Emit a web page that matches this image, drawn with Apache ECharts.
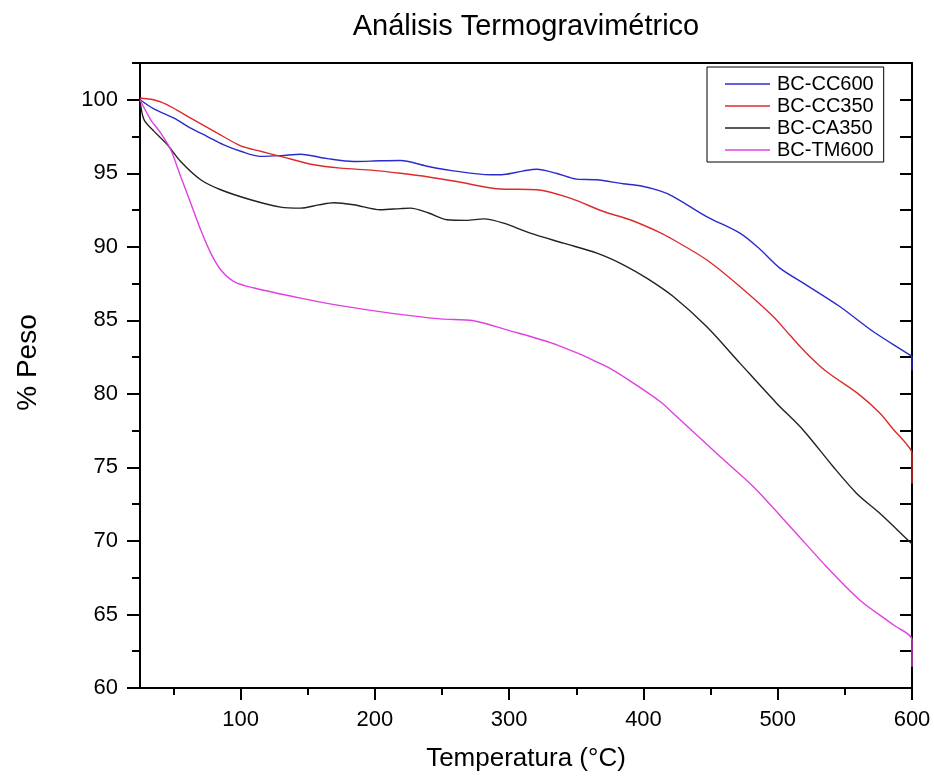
<!DOCTYPE html>
<html>
<head>
<meta charset="utf-8">
<script src="https://cdn.jsdelivr.net/npm/echarts@6/dist/echarts.min.js"></script>
<style>
html,body{margin:0;padding:0;background:#fff;}
#chart{width:934px;height:778px;}
</style>
</head>
<body>
<div id="chart"></div>
<script>
// ---- Data (temperature °C, weight %) ----
const seriesNames = ['BC-CC600', 'BC-CC350', 'BC-CA350', 'BC-TM600'];

const cc600T = [25, 35, 50.4, 62, 75.2, 87, 100, 114.8, 130, 144.6, 164.4, 184.2, 204, 219, 238, 256, 286, 296, 310, 320.6, 335, 350.4, 365, 384.8, 397.5, 412.3, 422.2, 447, 471.8, 486, 501.6, 521.4, 546.2, 571, 598.3, 600, 600];
const cc600W = [100.0, 99.4, 98.75, 98.1, 97.5, 96.95, 96.5, 96.15, 96.2, 96.3, 96.0, 95.8, 95.85, 95.87, 95.5, 95.2, 94.9, 94.92, 95.15, 95.28, 95.0, 94.6, 94.56, 94.29, 94.15, 93.8, 93.42, 92.06, 90.93, 89.9, 88.55, 87.4, 85.94, 84.24, 82.65, 82.5, 81.6];

const cc350T = [25, 35, 45.4, 62.8, 82.6, 100, 114.8, 129.7, 154.5, 174.3, 199, 219, 240, 261, 291, 320.6, 345.4, 370.2, 390, 412.3, 422.2, 447, 471.8, 496.6, 509, 521.4, 536.3, 560, 576, 586, 595.8, 600, 600];
const cc350W = [100.1, 100.0, 99.66, 98.75, 97.73, 96.87, 96.5, 96.15, 95.58, 95.35, 95.2, 95.0, 94.75, 94.44, 93.95, 93.88, 93.31, 92.4, 91.84, 90.97, 90.48, 89.12, 87.3, 85.26, 84.0, 82.77, 81.52, 80.0, 78.7, 77.6, 76.6, 75.97, 73.9];

const ca350T = [25, 28, 35.5, 45.4, 55.3, 70.2, 85.1, 107.4, 129.7, 144.6, 158, 169.4, 184.2, 204, 219, 226.4, 240, 253.7, 268, 281, 295.8, 315.7, 340.4, 365.3, 385, 402.4, 422.2, 447, 471.8, 499.1, 518.9, 541.2, 558.6, 576, 599.5, 600];
const ca350W = [100.0, 98.64, 97.85, 96.94, 95.8, 94.56, 93.88, 93.2, 92.7, 92.63, 92.85, 93.0, 92.86, 92.52, 92.6, 92.63, 92.3, 91.84, 91.8, 91.9, 91.61, 90.93, 90.25, 89.57, 88.78, 87.87, 86.62, 84.58, 82.09, 79.37, 77.55, 75.06, 73.25, 71.88, 69.84, 69.8];

const tm600T = [25, 33, 40.5, 47.9, 55.3, 62.8, 70.2, 77.7, 85.1, 95, 110, 144.6, 174.3, 211.5, 248.7, 273.5, 298.3, 335.5, 372.7, 392.5, 412.3, 424.7, 457, 481.7, 511.5, 536.3, 561, 586, 600, 600];
const tm600W = [100.0, 98.64, 97.73, 96.6, 94.78, 92.97, 91.16, 89.57, 88.44, 87.64, 87.2, 86.51, 86.0, 85.49, 85.1, 84.97, 84.35, 83.33, 81.86, 80.73, 79.48, 78.46, 75.74, 73.7, 70.75, 68.25, 65.99, 64.3, 63.27, 61.45];

// ---- Axis ticks ----
const xMajorTicks = [100, 200, 300, 400, 500, 600];
const xMinorTicks = [50, 150, 250, 350, 450, 550];
const yMajorTicks = [60, 65, 70, 75, 80, 85, 90, 95, 100];
const yMinorTicks = [62.5, 67.5, 72.5, 77.5, 82.5, 87.5, 92.5, 97.5, 102.5];
const xRange = [25, 600];
const yRange = [60, 102.5];

const colors = ['#2b2bcc', '#dd2b2b', '#222222', '#e040e0'];
const FONT = '"Liberation Sans", Arial, sans-serif';

function pairs(xs, ys) { return xs.map((x, i) => [x, ys[i]]); }
const allData = [pairs(cc600T, cc600W), pairs(cc350T, cc350W), pairs(ca350T, ca350W), pairs(tm600T, tm600W)];

const chart = echarts.init(document.getElementById('chart'), null, {renderer: 'canvas'});

const lineAxis = {show: true, lineStyle: {color: '#000', width: 2}};
const hiddenLine = {show: false};

const option = {
  backgroundColor: '#fff',
  animation: false,
  title: {
    text: 'Análisis Termogravimétrico',
    left: 521, top: 7, textAlign: 'center',
    textStyle: {fontFamily: FONT, fontSize: 29, fontWeight: 'normal', color: '#000'}
  },
  legend: {
    data: seriesNames,
    orient: 'vertical',
    left: 707, top: 67,
    borderColor: '#000', borderWidth: 1,
    padding: [7, 10, 2, 18],
    itemGap: 2, itemWidth: 45, itemHeight: 1.4,
    icon: 'rect',
    textStyle: {fontFamily: FONT, fontSize: 20, color: '#000', padding: [0, 0, 0, 2]}
  },
  grid: {left: 140, right: 22, top: 63, bottom: 90, containLabel: false},
  xAxis: [
    {
      type: 'value', position: 'bottom', min: xRange[0], max: xRange[1],
      name: 'Temperatura (°C)', nameLocation: 'middle', nameGap: 58,
      nameTextStyle: {fontFamily: FONT, fontSize: 26, color: '#000'},
      axisLine: lineAxis,
      axisTick: {show: true, inside: false, length: 12, customValues: xMajorTicks, lineStyle: {color: '#000', width: 2}},
      axisLabel: {show: true, margin: 21, customValues: xMajorTicks, fontFamily: FONT, fontSize: 22, color: '#000'},
      splitLine: {show: false}
    },
    {
      type: 'value', position: 'top', min: xRange[0], max: xRange[1],
      axisLine: lineAxis, axisTick: {show: false}, axisLabel: {show: false}, splitLine: {show: false}
    },
    {
      type: 'value', position: 'bottom', min: xRange[0], max: xRange[1],
      axisLine: hiddenLine,
      axisTick: {show: true, inside: false, length: 7, customValues: xMinorTicks, lineStyle: {color: '#000', width: 2}},
      axisLabel: {show: false}, splitLine: {show: false}
    }
  ],
  yAxis: [
    {
      type: 'value', position: 'left', min: yRange[0], max: yRange[1],
      name: '% Peso', nameLocation: 'middle', nameGap: 98, nameRotate: 90,
      nameTextStyle: {fontFamily: FONT, fontSize: 28, color: '#000', padding: [0, 0, 0, 26]},
      axisLine: lineAxis,
      axisTick: {show: true, inside: false, length: 13, customValues: yMajorTicks, lineStyle: {color: '#000', width: 2}},
      axisLabel: {show: true, margin: 22, customValues: yMajorTicks, fontFamily: FONT, fontSize: 22, color: '#000'},
      splitLine: {show: false}
    },
    {
      type: 'value', position: 'right', min: yRange[0], max: yRange[1],
      axisLine: lineAxis,
      axisTick: {show: true, inside: true, length: 12, customValues: yMajorTicks.concat(yMinorTicks.slice(0, -1)), lineStyle: {color: '#000', width: 2}},
      axisLabel: {show: false}, splitLine: {show: false}
    },
    {
      type: 'value', position: 'left', min: yRange[0], max: yRange[1],
      axisLine: hiddenLine,
      axisTick: {show: true, inside: false, length: 8, customValues: yMinorTicks, lineStyle: {color: '#000', width: 2}},
      axisLabel: {show: false}, splitLine: {show: false}
    }
  ],
  series: seriesNames.map((name, i) => ({
    name: name,
    type: 'line',
    xAxisIndex: 0, yAxisIndex: 0,
    data: allData[i],
    symbol: 'none',
    showSymbol: false,
    smooth: 0.3,
    color: colors[i],
    itemStyle: {color: colors[i]},
    lineStyle: {color: colors[i], width: 1.4},
    clip: true
  }))
};

chart.setOption(option);
</script>
</body>
</html>
